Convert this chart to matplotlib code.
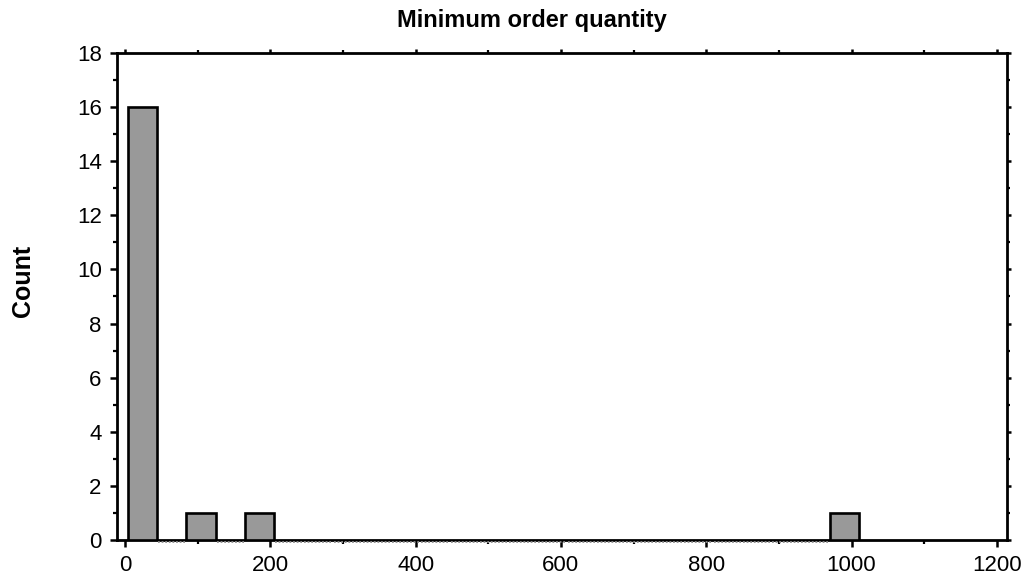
import numpy as np
import matplotlib
matplotlib.use("Agg")
import matplotlib.pyplot as plt
from matplotlib.transforms import ScaledTranslation

plt.rcParams['font.family'] = ['Liberation Sans', 'DejaVu Sans']

# Histogram bins (edges) and counts
bin_start = 4.0
bin_end = 1010.0
n_bins = 25
counts = [16, 0, 1, 0, 1, 0, 0, 0, 0, 0, 0, 0, 0, 0, 0, 0, 0, 0, 0, 0, 0, 0, 0, 0, 1]

title = "Minimum order quantity"
ylabel = "Count"
x_ticks = [0, 200, 400, 600, 800, 1000, 1200]
y_ticks = [0, 2, 4, 6, 8, 10, 12, 14, 16, 18]

edges = np.linspace(bin_start, bin_end, n_bins + 1)
widths = np.diff(edges)

W, H = 1022, 582
fig = plt.figure(figsize=(W / 100, H / 100), dpi=100)
ax = fig.add_axes([0.1145, 0.0722, 0.8708, 0.8368])

counts_arr = np.array(counts)
nz = counts_arr > 0
ax.bar(edges[:-1][nz], counts_arr[nz], width=widths[nz], align='edge',
       color='#999999', edgecolor='black', linewidth=1.9, zorder=3)

# Empty bins are drawn as dotted segments along the baseline
off = ScaledTranslation(0, -1.5 / 72, fig.dpi_scale_trans)
for left, w, c in zip(edges[:-1], widths, counts_arr):
    if c == 0:
        ax.plot([left + 1.5, left + w - 1.5], [0, 0], color='#8a8a8a',
                linestyle=(0, (1, 1)), linewidth=1.3, zorder=4,
                transform=ax.transData + off, clip_on=False,
                solid_capstyle='butt', dash_capstyle='butt')

ax.set_xlim(-11, 1214)
ax.set_ylim(0, 18)
ax.set_xticks(x_ticks)
ax.set_yticks(y_ticks)
ax.set_xticks(np.arange(100, 1200, 200), minor=True)
ax.set_yticks(np.arange(1, 18, 2), minor=True)

for s in ax.spines.values():
    s.set_linewidth(2.0)

ax.tick_params(which='major', direction='out', length=5, width=1.8,
               labelsize=16, top=True, right=True, pad=6)
ax.tick_params(which='minor', direction='out', length=3, width=1.6,
               top=True, right=True)
ax.tick_params(axis='x', which='major', labeltop=False)
ax.tick_params(axis='y', which='major', labelright=False)
for axis in (ax.xaxis, ax.yaxis):
    for t in axis.get_major_ticks():
        t.tick2line.set_markersize(3)
    for t in axis.get_minor_ticks():
        t.tick2line.set_markersize(2)

# Title and axis label placed in figure pixel coordinates
fig.text(532 / W, 1 - 21 / H, title, fontsize=17, fontweight='bold',
         ha='center', va='center')
fig.text(23 / W, 1 - 281 / H, ylabel, fontsize=18, fontweight='bold',
         ha='center', va='center', rotation=90)

fig.savefig("out.png", dpi=100)
